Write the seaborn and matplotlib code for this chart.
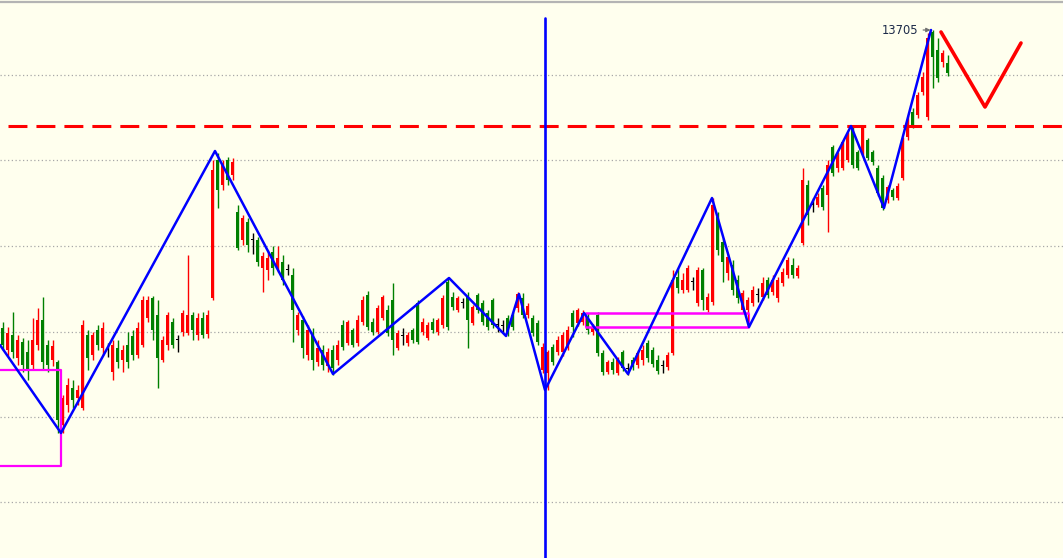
import numpy as np
import pandas as pd
import matplotlib
matplotlib.use("Agg")
import matplotlib.pyplot as plt
import seaborn as sns

# ---------------- data (prices) ----------------
opens = [13407, 13385, 13400, 13377, 13393, 13383, 13370, 13390, 13415, 13390, 13375, 13373,
         13310, 13330, 13347, 13337, 13327, 13400, 13380, 13405, 13387, 13385,
         13363, 13387, 13375, 13390, 13399, 13380, 13390, 13417, 13437, 13420, 13375, 13390, 13413,
         13395, 13403, 13402, 13420, 13400, 13417, 13401, 13437,
         13575, 13550, 13575, 13560,
         13523, 13495, 13513, 13495, 13495, 13467, 13465, 13483, 13467, 13473, 13465, 13460, 13405,
         13415, 13380, 13400, 13373, 13385, 13369,
         13385, 13375, 13410, 13392, 13405, 13392, 13413, 13440, 13413, 13403, 13417, 13425, 13435,
         13387, 13399, 13392, 13405, 13432, 13403, 13397, 13413, 13403, 13410, 13453, 13438, 13425,
         13432, 13438, 13412, 13440, 13432, 13422, 13435, 13410, 13409, 13417, 13420, 13427,
         13437, 13420, 13417, 13412, 13365, 13362, 13388, 13383, 13383, 13387, 13422, 13412, 13413,
         13417, 13403, 13420, 13382, 13363, 13373, 13362, 13383, 13366, 13375, 13370, 13375, 13392,
         13385, 13375, 13369, 13368, 13382, 13458, 13445, 13445, 13453, 13432, 13465, 13425, 13433,
         13518, 13493, 13462, 13470, 13455, 13425, 13425, 13432, 13440, 13438, 13455, 13443, 13437,
         13452, 13460, 13470, 13459, 13492, 13550, 13530, 13530, 13547, 13540, 13588, 13567, 13567,
         13575, 13607, 13583, 13582, 13595, 13583, 13567, 13557, 13535, 13545, 13537, 13557, 13598,
         13623, 13620, 13643, 13618, 13703, 13685, 13673, 13672]
closes = [13390, 13402, 13383, 13395, 13370, 13365, 13395, 13415, 13373, 13370, 13389, 13315,
          13337, 13350, 13335, 13345, 13410, 13377, 13400, 13390, 13407, 13385,
          13390, 13373, 13385, 13373, 13380, 13407, 13435, 13435, 13405, 13377, 13395, 13420, 13390,
          13395, 13422, 13420, 13405, 13417, 13400, 13420, 13565,
          13545, 13570, 13555, 13573,
          13487, 13517, 13490, 13495, 13473, 13479, 13477, 13467, 13477, 13455, 13465, 13425, 13420,
          13387, 13405, 13375, 13387, 13370, 13383,
          13367, 13390, 13388, 13413, 13390, 13415, 13435, 13408, 13403, 13427, 13438, 13402, 13395,
          13402, 13399, 13400, 13395, 13393, 13413, 13410, 13405, 13415, 13437, 13408, 13428, 13437,
          13432, 13415, 13428, 13425, 13413, 13408, 13410, 13410, 13409, 13402, 13408, 13441,
          13420, 13429, 13402, 13393, 13388, 13383, 13373, 13395, 13400, 13405, 13408, 13425, 13422,
          13405, 13408, 13382, 13363, 13373, 13365, 13375, 13367, 13366, 13368, 13382, 13385, 13377,
          13371, 13364, 13369, 13380, 13455, 13447, 13455, 13467, 13453, 13465, 13435, 13438, 13530,
          13485, 13473, 13478, 13445, 13437, 13442, 13435, 13445, 13440, 13452, 13440, 13455, 13455,
          13463, 13475, 13460, 13467, 13555, 13520, 13530, 13538, 13528, 13570, 13562, 13580, 13593,
          13600, 13570, 13567, 13607, 13577, 13573, 13542, 13527, 13548, 13538, 13549, 13595, 13615,
          13610, 13640, 13658, 13697, 13678, 13657, 13682, 13662]
highs = [13413, 13408, 13423, 13400, 13397, 13395, 13417, 13427, 13438, 13395, 13395, 13375,
         13340, 13357, 13355, 13350, 13415, 13405, 13403, 13410, 13413, 13392,
         13395, 13395, 13390, 13403, 13405, 13413, 13439, 13439, 13439, 13435, 13399, 13423, 13417,
         13400, 13425, 13480, 13423, 13422, 13423, 13425, 13575,
         13582, 13575, 13578, 13577,
         13530, 13520, 13517, 13502, 13498, 13483, 13485, 13489, 13489, 13480, 13471, 13467, 13423,
         13419, 13410, 13407, 13395, 13390, 13387,
         13390, 13395, 13415, 13415, 13407, 13420, 13439, 13444, 13417, 13430, 13440, 13430, 13452,
         13405, 13407, 13403, 13407, 13435, 13417, 13413, 13417, 13417, 13440, 13457, 13443, 13439,
         13437, 13443, 13430, 13442, 13435, 13425, 13437, 13417, 13415, 13420, 13423, 13443,
         13442, 13432, 13420, 13415, 13392, 13385, 13391, 13399, 13403, 13409, 13425, 13427, 13425,
         13422, 13411, 13423, 13385, 13375, 13377, 13378, 13385, 13372, 13378, 13385, 13390, 13395,
         13388, 13380, 13375, 13383, 13465, 13467, 13462, 13470, 13458, 13468, 13467, 13442, 13537,
         13523, 13497, 13481, 13475, 13460, 13445, 13438, 13449, 13447, 13458, 13458, 13460, 13458,
         13467, 13478, 13477, 13470, 13567, 13555, 13537, 13542, 13550, 13575, 13590, 13583, 13595,
         13603, 13609, 13585, 13610, 13597, 13585, 13570, 13560, 13550, 13547, 13552, 13598, 13620,
         13627, 13643, 13663, 13702, 13705, 13697, 13685, 13680]
lows = [13385, 13379, 13377, 13370, 13363, 13355, 13365, 13385, 13365, 13363, 13369, 13302,
        13302, 13323, 13327, 13330, 13325, 13365, 13375, 13385, 13380, 13378,
        13355, 13367, 13363, 13367, 13375, 13377, 13388, 13413, 13395, 13347, 13373, 13385, 13387,
        13383, 13399, 13400, 13395, 13395, 13397, 13397, 13435,
        13527, 13545, 13550, 13555,
        13485, 13490, 13483, 13481, 13469, 13443, 13455, 13460, 13463, 13450, 13460, 13393, 13400,
        13377, 13375, 13365, 13369, 13365, 13363,
        13360, 13370, 13385, 13390, 13388, 13389, 13410, 13405, 13400, 13401, 13415, 13399, 13380,
        13385, 13390, 13389, 13392, 13391, 13400, 13395, 13402, 13400, 13407, 13405, 13425, 13423,
        13427, 13387, 13410, 13422, 13410, 13405, 13407, 13403, 13402, 13399, 13405, 13423,
        13417, 13417, 13399, 13390, 13362, 13345, 13370, 13380, 13379, 13385, 13398, 13409, 13410,
        13401, 13400, 13379, 13360, 13361, 13361, 13360, 13364, 13360, 13365, 13367, 13370, 13373,
        13368, 13361, 13362, 13365, 13380, 13442, 13442, 13443, 13445, 13429, 13425, 13423, 13430,
        13480, 13453, 13455, 13440, 13432, 13422, 13408, 13429, 13433, 13435, 13437, 13440, 13433,
        13449, 13457, 13457, 13457, 13490, 13510, 13523, 13528, 13525, 13503, 13559, 13563, 13565,
        13573, 13567, 13565, 13580, 13575, 13570, 13539, 13525, 13532, 13535, 13535, 13555, 13595,
        13607, 13617, 13640, 13615, 13647, 13653, 13668, 13659]

# zigzag pivots (bar index, price)
zz_idx = [-0.5, 11.7, 42.5, 66.1, 89.3, 100.7, 103.3, 108.5, 116.3, 125.1, 141.9, 149.3, 169.7, 176.3, 185.7]
zz_px = [13390, 13302, 13584, 13361, 13457, 13399, 13441, 13345, 13422, 13361, 13537, 13408, 13609, 13527, 13705]
# projected red V
v_idx = [187.7, 196.5, 203.7]
v_px = [13703, 13628, 13692]
# reference levels
grid_levels = [13660, 13575, 13489, 13403, 13318, 13233]
dash_level = 13609
vline_idx = 108.5
box_left = [13365, 13269]           # top / bottom of left magenta box
box_mid = [13422, 13408]            # middle magenta channel
high_label = "13705"

# ---------------- plot ----------------
sns.set_theme(style="white")
BG = "#FFFFEE"
fig = plt.figure(figsize=(10.63, 5.58), dpi=100, facecolor=BG)
ax = fig.add_axes([0, 0, 1, 1])
ax.set_facecolor(BG)
for s in ax.spines.values():
    s.set_visible(False)
ax.set_xticks([]); ax.set_yticks([])
ax.set_xlim(-0.5, 1063 / 5 - 0.5)
ax.set_ylim(13177, 13735)

# grid + top border
for g in grid_levels:
    ax.axhline(g, color="#A8A8A8", lw=0.9, ls=(0, (1, 2)), zorder=0)
ax.axhline(13733, color="#B4B4B4", lw=1.6, zorder=0)

# candles
df = pd.DataFrame({"o": opens, "c": closes, "h": highs, "l": lows})
df["i"] = np.arange(len(df))
cols = np.where(df.c > df.o, "#FF0000", np.where(df.c < df.o, "#008000", "#000000"))
ax.vlines(df.i, df.l, df.h, colors=cols, lw=1.0, zorder=2)
bottom = np.minimum(df.o, df.c)
height = np.maximum(np.abs(df.c - df.o), 1)
ax.bar(df.i, height, bottom=bottom, width=0.62, color=cols, linewidth=0, zorder=2)

# magenta boxes
mag = "#FF00FF"
ax.plot([-0.5, 11.7, 11.7, -0.5], [box_left[0], box_left[0], box_left[1], box_left[1]], color=mag, lw=1.6, zorder=3)
ax.hlines(box_mid, 116.5, 149.2, color=mag, lw=1.8, zorder=3)
ax.vlines([116.5, 149.2], box_mid[1], box_mid[0], color=mag, lw=0.8, zorder=3)

# red dashed level
ax.plot([1.1, 212.1], [dash_level, dash_level], color="#FF0000", lw=2.2, ls=(0, (6.2, 2.95)), zorder=3)

# vertical blue line
ax.plot([vline_idx, vline_idx], [13177, 13717], color="#0000FF", lw=1.9, zorder=4)

# zigzag and projection
sns.lineplot(x=zz_idx, y=zz_px, sort=False, estimator=None, color="#0000FF", lw=1.8, ax=ax, zorder=5)
sns.lineplot(x=v_idx, y=v_px, sort=False, estimator=None, color="#FF0000", lw=2.6, ax=ax, zorder=5)

# high label
ax.annotate(high_label, xy=(185.6, 13705), xytext=(183.2, 13705), ha="right", va="center",
            fontsize=8.3, color="#1C2A48", family="DejaVu Sans",
            arrowprops=dict(arrowstyle="-|>", color="#707070", lw=0.9, shrinkA=1, shrinkB=0,
                            mutation_scale=6), zorder=6)

fig.savefig("out.png", dpi=100, facecolor=BG)
